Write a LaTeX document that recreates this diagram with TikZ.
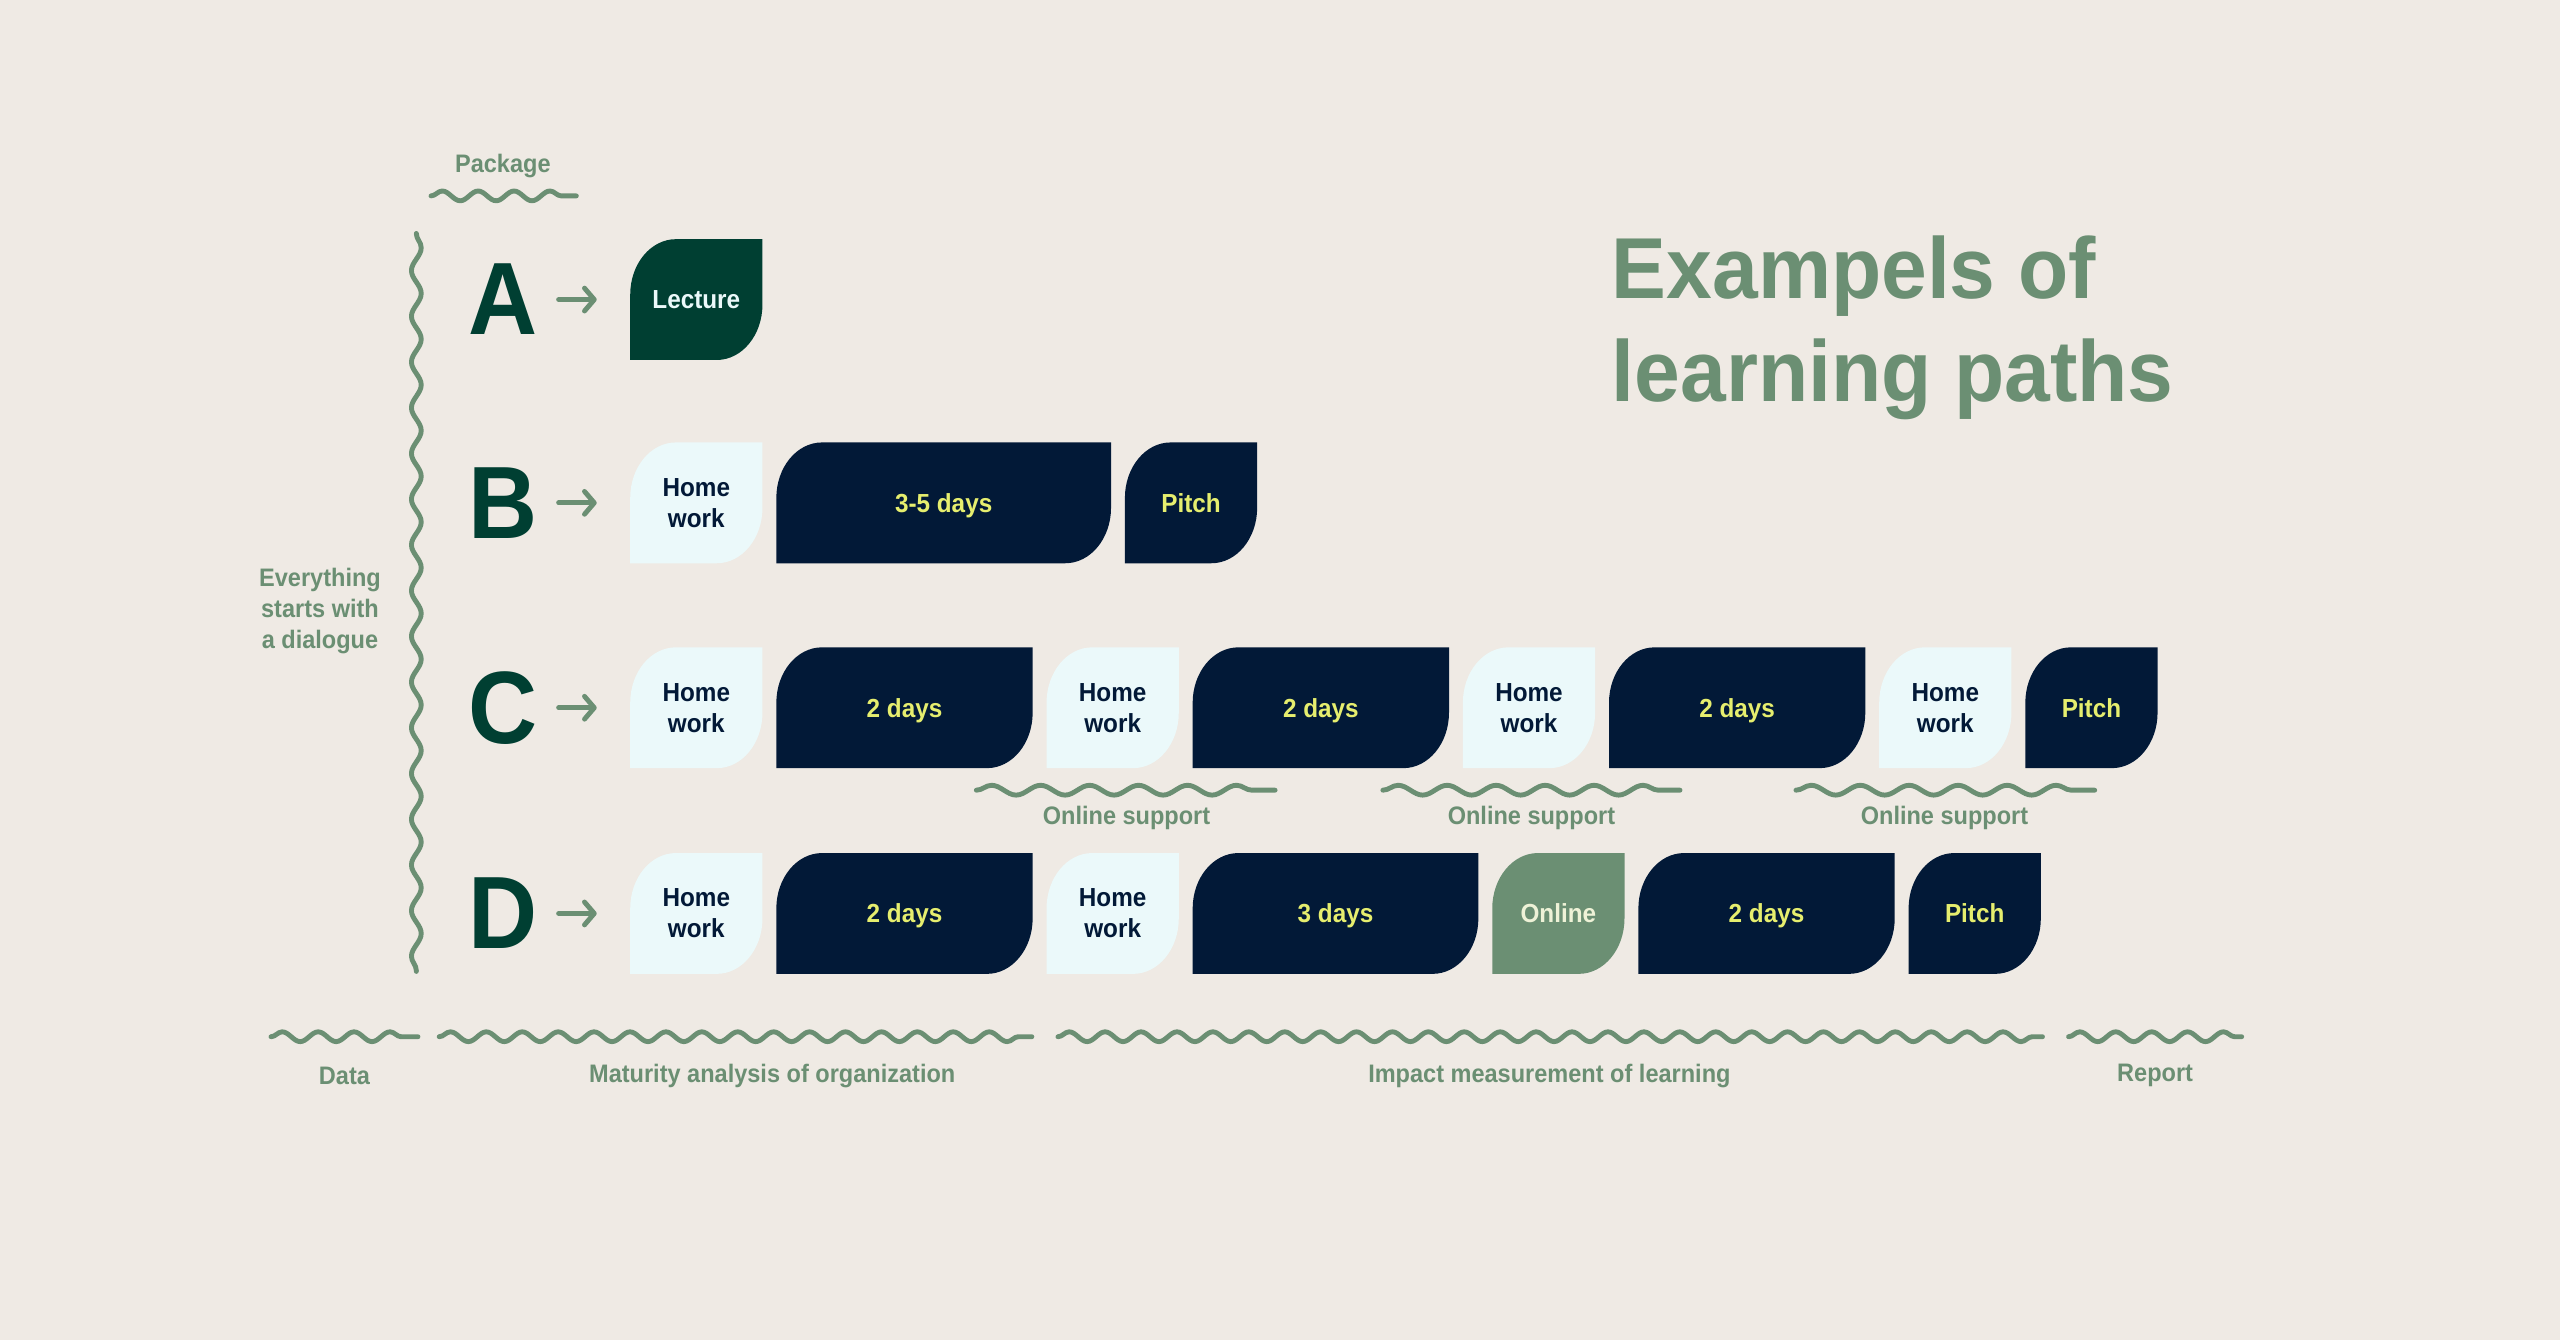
\documentclass[tikz,border=0pt]{standalone}
\usepackage{fontspec}
\setmainfont{Liberation Sans}[FakeStretch=0.93]
\newfontfamily\headfont{Liberation Sans}[FakeStretch=0.95]
\usepackage{xcolor}
\usepackage{tikz}
\usetikzlibrary{positioning}
\usetikzlibrary{arrows.meta}
\usetikzlibrary{decorations.pathmorphing}

\definecolor{paper}{RGB}{239,234,228}
\definecolor{sage}{RGB}{107,143,115}
\definecolor{pine}{RGB}{0,63,50}
\definecolor{navy}{RGB}{2,25,55}
\definecolor{mint}{RGB}{235,249,250}
\definecolor{lime}{RGB}{230,238,110}
\definecolor{cream}{RGB}{238,242,215}

% leaf outline: round top left and bottom right
\newcommand\leafpath{(path picture bounding box.south west) -- ([yshift=-34pt]path picture bounding box.north west) arc[start angle=180, end angle=90, x radius=28pt, y radius=34pt] -- (path picture bounding box.north east) -- ([yshift=34pt]path picture bounding box.south east) arc[start angle=0, end angle=-90, x radius=28pt, y radius=34pt] -- cycle}

\tikzset{
  wave/.style={draw=sage, line width=3pt, line cap=round, line join=round, decorate, decoration={snake, segment length=#1, amplitude=3pt}},
  wave/.default=22pt,
  lbl/.style={text=sage, font=\fontsize{15.5}{19}\selectfont\bfseries, inner sep=0pt, align=center},
  letter/.style={text=pine, font=\fontsize{63}{63}\selectfont\bfseries, inner sep=0pt, outer sep=0pt},
  go/.style={draw=sage, line width=3pt, line cap=round, -{Straight Barb[length=6pt, width=14pt, round]}, shorten <=13pt, shorten >=20.5pt},
  leaf/.style={inner sep=0pt, outer sep=0pt, minimum height=74pt, minimum width=#1, align=center, font=\fontsize{16}{19}\selectfont\bfseries},
  oneline/.style={text height=11.5pt, text depth=0pt},
  homework/.style={leaf=81pt, text=navy, path picture={\fill[mint] \leafpath;}},
  session/.style={leaf=#1, oneline, text=lime, path picture={\fill[navy] \leafpath;}},
  session/.default=157pt,
  lecture/.style={leaf=81pt, oneline, text=mint, path picture={\fill[pine] \leafpath;}},
  online/.style={leaf=81pt, oneline, text=cream, path picture={\fill[sage] \leafpath;}},
}

\begin{document}
\begin{tikzpicture}[x=1pt, y=1pt]
    \fill[paper] (0,0) rectangle (1568,821);
    \useasboundingbox (0,0) rectangle (1568,821);

    \node[text=sage, font=\headfont\fontsize{53}{63}\selectfont\bfseries, align=left, inner sep=0pt, anchor=west] (title) at (987,620) {Exampels of\\learning paths};

    % left side
    \node[lbl] (pkg) at (308,719) {Package};
    \draw[wave] (264,701) -- (353,701);
    \draw[wave=28pt] (255,678) -- (255,226);
    \node[lbl] (dialogue) at (196,447) {Everything\\starts with\\a dialogue};

    \node[letter] (la) at (308,637.5) {A};
    \node[letter] (lb) at (308,513) {B};
    \node[letter] (lc) at (308,387.5) {C};
    \node[letter] (ld) at (308,261.5) {D};

    % A
    \node[lecture] (a1) at (426.5,637.5) {Lecture};
    % B
    \node[homework] (b1) at (426.5,513) {Home\\work};
    \node[session=205pt, right=8.5pt of b1] (b2) {3-5 days};
    \node[session=81pt, right=8.5pt of b2] (b3) {Pitch};
    % C
    \node[homework] (c1) at (426.5,387.5) {Home\\work};
    \node[session, right=8.5pt of c1] (c2) {2 days};
    \node[homework, right=8.5pt of c2] (c3) {Home\\work};
    \node[session, right=8.5pt of c3] (c4) {2 days};
    \node[homework, right=8.5pt of c4] (c5) {Home\\work};
    \node[session, right=8.5pt of c5] (c6) {2 days};
    \node[homework, right=8.5pt of c6] (c7) {Home\\work};
    \node[session=81pt, right=8.5pt of c7] (c8) {Pitch};
    % D
    \node[homework] (d1) at (426.5,261.5) {Home\\work};
    \node[session, right=8.5pt of d1] (d2) {2 days};
    \node[homework, right=8.5pt of d2] (d3) {Home\\work};
    \node[session=175pt, right=8.5pt of d3] (d4) {3 days};
    \node[online, right=8.5pt of d4] (d5) {Online};
    \node[session, right=8.5pt of d5] (d6) {2 days};
    \node[session=81pt, right=8.5pt of d6] (d7) {Pitch};

    \draw[go] (la) -- (a1);
    \draw[go] (lb) -- (b1);
    \draw[go] (lc) -- (c1);
    \draw[go] (ld) -- (d1);

    % online support
    \draw[wave=30pt] (598,337) -- (781,337);
    \draw[wave=30pt] (847,337) -- (1029,337);
    \draw[wave=30pt] (1100,337) -- (1283,337);
    \node[lbl] (os1) at (690,320) {Online support};
    \node[lbl] (os2) at (938,320) {Online support};
    \node[lbl] (os3) at (1191,320) {Online support};

    % bottom
    \draw[wave] (166,186) -- (256,186);
    \draw[wave] (269,186) -- (632,186);
    \draw[wave] (648,186) -- (1251,186);
    \draw[wave] (1267,186) -- (1373,186);
    \node[lbl] (data) at (211,162) {Data};
    \node[lbl] (maturity) at (473,162) {Maturity analysis of organization};
    \node[lbl] (impact) at (949,162) {Impact measurement of learning};
    \node[lbl] (report) at (1320,162) {Report};
\end{tikzpicture}
\end{document}
